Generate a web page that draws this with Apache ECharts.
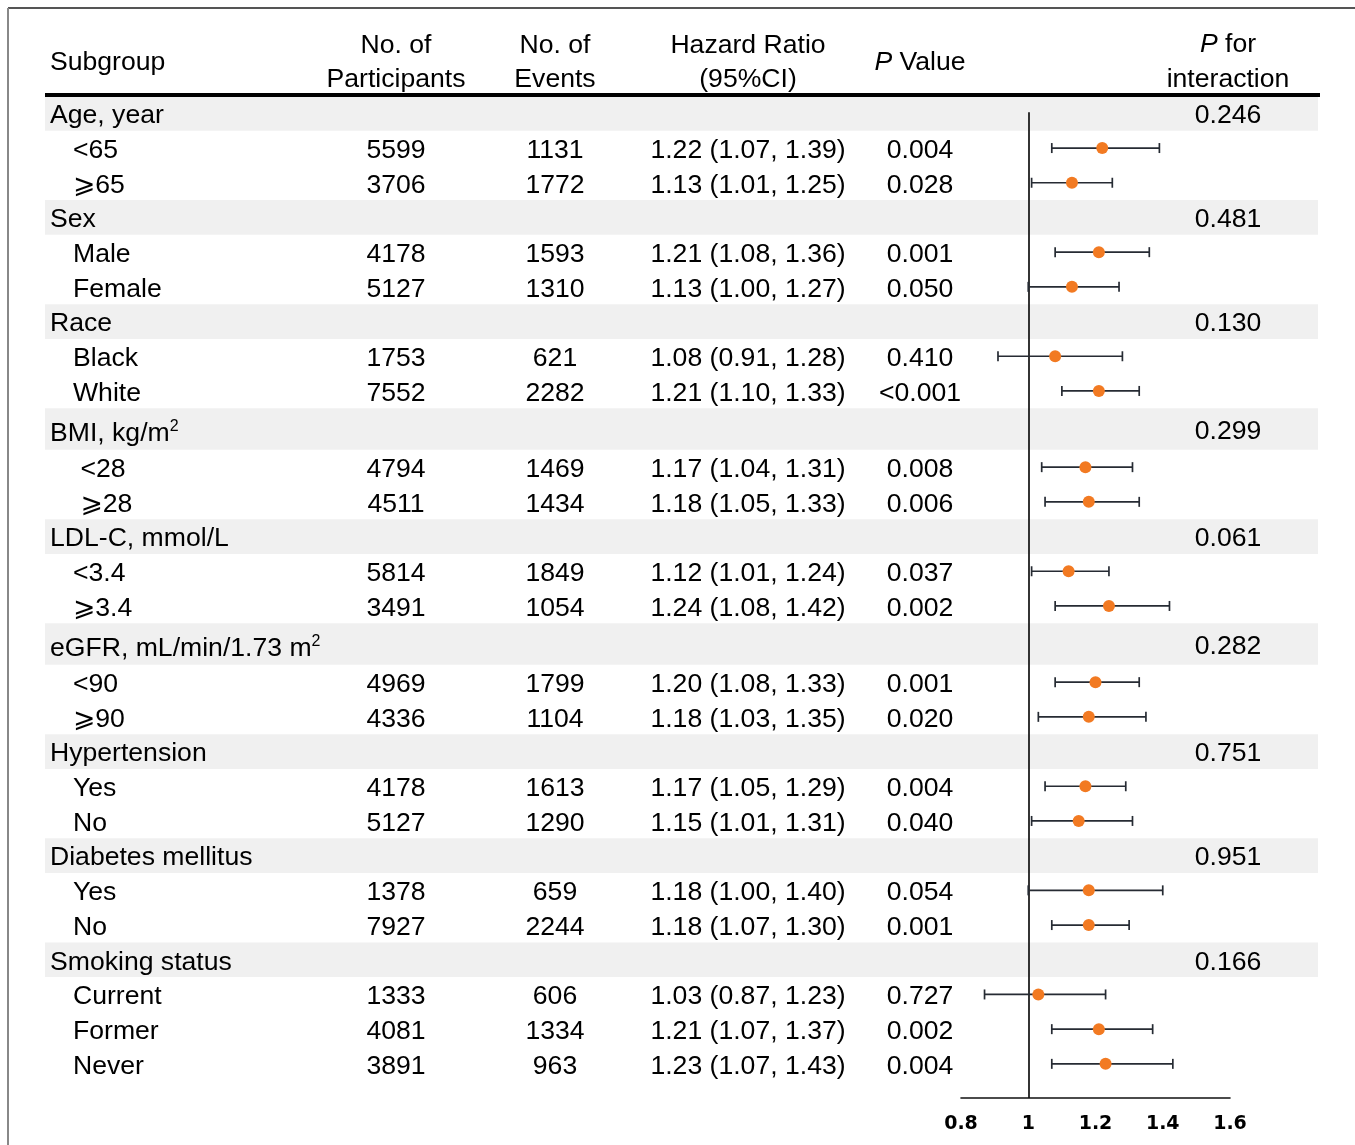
<!DOCTYPE html>
<html>
<head>
<meta charset="utf-8">
<script src="https://cdn.jsdelivr.net/npm/echarts@6/dist/echarts.min.js"></script>
<style>
  html, body { margin: 0; padding: 0; background: #fff; }
  #chart { width: 1355px; height: 1145px; }
</style>
</head>
<body>
<div id="chart"></div>
<script>
// ---- data ----
const groupNames = ['Age, year', 'Sex', 'Race', 'BMI, kg/m^2', 'LDL-C, mmol/L',
  'eGFR, mL/min/1.73 m^2', 'Hypertension', 'Diabetes mellitus', 'Smoking status'];
const pInteraction = ['0.246', '0.481', '0.130', '0.299', '0.061', '0.282', '0.751', '0.951', '0.166'];
const groupSizes = [2, 2, 2, 2, 2, 2, 2, 2, 3];

const subgroups = ['<65', '⩾65', 'Male', 'Female', 'Black', 'White', ' <28', ' ⩾28',
  '<3.4', '⩾3.4', '<90', '⩾90', 'Yes', 'No', 'Yes', 'No', 'Current', 'Former', 'Never'];
const participants = [5599, 3706, 4178, 5127, 1753, 7552, 4794, 4511, 5814, 3491,
  4969, 4336, 4178, 5127, 1378, 7927, 1333, 4081, 3891];
const events = [1131, 1772, 1593, 1310, 621, 2282, 1469, 1434, 1849, 1054,
  1799, 1104, 1613, 1290, 659, 2244, 606, 1334, 963];
const hr = [1.22, 1.13, 1.21, 1.13, 1.08, 1.21, 1.17, 1.18, 1.12, 1.24,
  1.20, 1.18, 1.17, 1.15, 1.18, 1.18, 1.03, 1.21, 1.23];
const ciLower = [1.07, 1.01, 1.08, 1.00, 0.91, 1.10, 1.04, 1.05, 1.01, 1.08,
  1.08, 1.03, 1.05, 1.01, 1.00, 1.07, 0.87, 1.07, 1.07];
const ciUpper = [1.39, 1.25, 1.36, 1.27, 1.28, 1.33, 1.31, 1.33, 1.24, 1.42,
  1.33, 1.35, 1.29, 1.31, 1.40, 1.30, 1.23, 1.37, 1.43];
const pValues = ['0.004', '0.028', '0.001', '0.050', '0.410', '<0.001', '0.008', '0.006',
  '0.037', '0.002', '0.001', '0.020', '0.004', '0.040', '0.054', '0.001', '0.727', '0.002', '0.004'];
const axisTicks = [0.8, 1.0, 1.2, 1.4, 1.6];

// ---- layout (pixel units) ----
const W = 1355, H = 1145;
const FONT = "'Liberation Sans', Arial, 'DejaVu Sans', sans-serif";
const FS = 26.6;
const TEXT_DY = 2.5;   // optical baseline nudge for the table text
const ROW_H = 34.7, ROW_H_SUP = 41.5, TABLE_TOP = 96;
const AXIS_Y = 1098;
const PLOT_LEFT = 961, PLOT_W = 269;
const COL = { label: 50, indent: 73, part: 396, events: 555, hr: 748, p: 920, pint: 1228 };
const BAND_L = 45, BAND_R = 1318;

// walk the rows top to bottom and work out their vertical centres
const groupRows = [];   // {name, pint, y, h}
const subRows = [];     // vertical centre of each subgroup row
let cursor = TABLE_TOP;
groupNames.forEach((g, gi) => {
  const h = g.includes('^') ? ROW_H_SUP : ROW_H;
  groupRows.push({ name: g, pint: pInteraction[gi], y: cursor + h / 2, h: h });
  cursor += h;
  for (let j = 0; j < groupSizes[gi]; j++) {
    subRows.push(cursor + ROW_H / 2);
    cursor += ROW_H;
  }
});

const fmtHR = i => hr[i].toFixed(2) + ' (' + ciLower[i].toFixed(2) + ', ' + ciUpper[i].toFixed(2) + ')';
const supText = s => s.replace(/\^(\w+)/, '{sup|$1}');

// text cells of the table
const cells = [];
const addCell = (x, y, text, align) => cells.push({ x: x, y: y + TEXT_DY, text: text, align: align || 'center' });

// header
addCell(COL.label, 60, 'Subgroup', 'left');
addCell(COL.part, 43, 'No. of'); addCell(COL.part, 77, 'Participants');
addCell(COL.events, 43, 'No. of'); addCell(COL.events, 77, 'Events');
addCell(COL.hr, 43, 'Hazard Ratio'); addCell(COL.hr, 77, '(95%CI)');
addCell(COL.p, 60, '{i|P} Value');
addCell(COL.pint, 42, '{i|P} for'); addCell(COL.pint, 77, 'interaction');

groupRows.forEach(g => {
  addCell(COL.label, g.y + (g.h > ROW_H ? 2 : 0), supText(g.name), 'left');
  addCell(COL.pint, g.y, g.pint);
});
subgroups.forEach((s, i) => {
  const y = subRows[i];
  addCell(COL.indent, y, s, 'left');
  addCell(COL.part, y, String(participants[i]));
  addCell(COL.events, y, String(events[i]));
  addCell(COL.hr, y, fmtHR(i));
  addCell(COL.p, y, pValues[i]);
});

const chart = echarts.init(document.getElementById('chart'), null, { renderer: 'canvas' });

chart.setOption({
  backgroundColor: '#fff',
  animation: false,
  grid: [
    { left: 0, top: 0, width: W, height: H },
    { left: PLOT_LEFT, top: 0, width: PLOT_W, height: AXIS_Y }
  ],
  xAxis: [
    { gridIndex: 0, type: 'value', min: 0, max: W, show: false },
    {
      gridIndex: 1, type: 'value',
      min: axisTicks[0], max: axisTicks[axisTicks.length - 1], interval: 0.2,
      axisLine: { onZero: false, lineStyle: { color: '#111', width: 1.6 } },
      axisTick: { show: false },
      splitLine: { show: false },
      axisLabel: {
        margin: 17, color: '#000', fontFamily: "'DejaVu Sans', sans-serif",
        fontWeight: 'bold', fontSize: 19,
        formatter: v => String(Math.round(v * 10) / 10)
      }
    }
  ],
  yAxis: [
    { gridIndex: 0, type: 'value', min: 0, max: H, inverse: true, show: false },
    { gridIndex: 1, type: 'value', min: 0, max: AXIS_Y, inverse: true, show: false }
  ],
  graphic: [
    // outer frame
    { type: 'line', shape: { x1: 8, y1: 8, x2: W, y2: 8 }, style: { stroke: '#555', lineWidth: 2 }, z: 10 },
    { type: 'line', shape: { x1: 8, y1: 8, x2: 8, y2: H }, style: { stroke: '#888', lineWidth: 2 }, z: 10 },
    // header rule
    { type: 'line', shape: { x1: BAND_L, y1: 95, x2: 1320, y2: 95 }, style: { stroke: '#000', lineWidth: 4 }, z: 10 }
  ],
  series: [
    {
      // shaded group rows
      type: 'custom', xAxisIndex: 0, yAxisIndex: 0, z: 1, silent: true, clip: false,
      data: groupRows.map(g => [BAND_L, g.y, g.h]),
      renderItem: (params, api) => {
        const p0 = api.coord([BAND_L, api.value(1)]);
        const p1 = api.coord([BAND_R, api.value(1)]);
        const h = api.value(2);
        return { type: 'rect', shape: { x: p0[0], y: p0[1] - h / 2, width: p1[0] - p0[0], height: h },
          style: { fill: '#f0f0f0' } };
      }
    },
    {
      // table text
      type: 'custom', xAxisIndex: 0, yAxisIndex: 0, z: 5, silent: true, clip: false,
      data: cells.map(c => [c.x, c.y]),
      renderItem: (params, api) => {
        const c = cells[params.dataIndex];
        const p = api.coord([api.value(0), api.value(1)]);
        return {
          type: 'text', x: p[0], y: p[1],
          style: {
            text: c.text, fill: '#000', fontFamily: FONT, fontSize: FS,
            align: c.align, verticalAlign: 'middle',
            rich: {
              i: { fontFamily: FONT, fontSize: FS, fontStyle: 'italic', fill: '#000' },
              sup: { fontFamily: FONT, fontSize: 16, verticalAlign: 'top', fill: '#000', padding: [0, 0, 14, 0] }
            }
          }
        };
      }
    },
    {
      // confidence intervals
      type: 'custom', xAxisIndex: 1, yAxisIndex: 1, z: 6, silent: true, clip: false,
      data: subgroups.map((s, i) => [ciLower[i], ciUpper[i], subRows[i]]),
      renderItem: (params, api) => {
        const a = api.coord([api.value(0), api.value(2)]);
        const b = api.coord([api.value(1), api.value(2)]);
        const cap = 5;
        const st = { stroke: '#262b33', lineWidth: 1.7 };
        return {
          type: 'group', children: [
            { type: 'line', shape: { x1: a[0], y1: a[1], x2: b[0], y2: b[1] }, style: st },
            { type: 'line', shape: { x1: a[0], y1: a[1] - cap, x2: a[0], y2: a[1] + cap }, style: st },
            { type: 'line', shape: { x1: b[0], y1: b[1] - cap, x2: b[0], y2: b[1] + cap }, style: st }
          ]
        };
      },
      markLine: {
        silent: true, symbol: 'none', label: { show: false },
        lineStyle: { color: '#111', width: 1.7, type: 'solid' },
        data: [[{ coord: [1, groupRows[0].y - 1] }, { coord: [1, AXIS_Y] }]]
      }
    },
    {
      // point estimates
      type: 'scatter', xAxisIndex: 1, yAxisIndex: 1, z: 7, silent: true,
      symbol: 'circle', symbolSize: 12,
      itemStyle: { color: '#f27a22', opacity: 1 },
      data: subgroups.map((s, i) => [hr[i], subRows[i]])
    }
  ]
});
</script>
</body>
</html>
